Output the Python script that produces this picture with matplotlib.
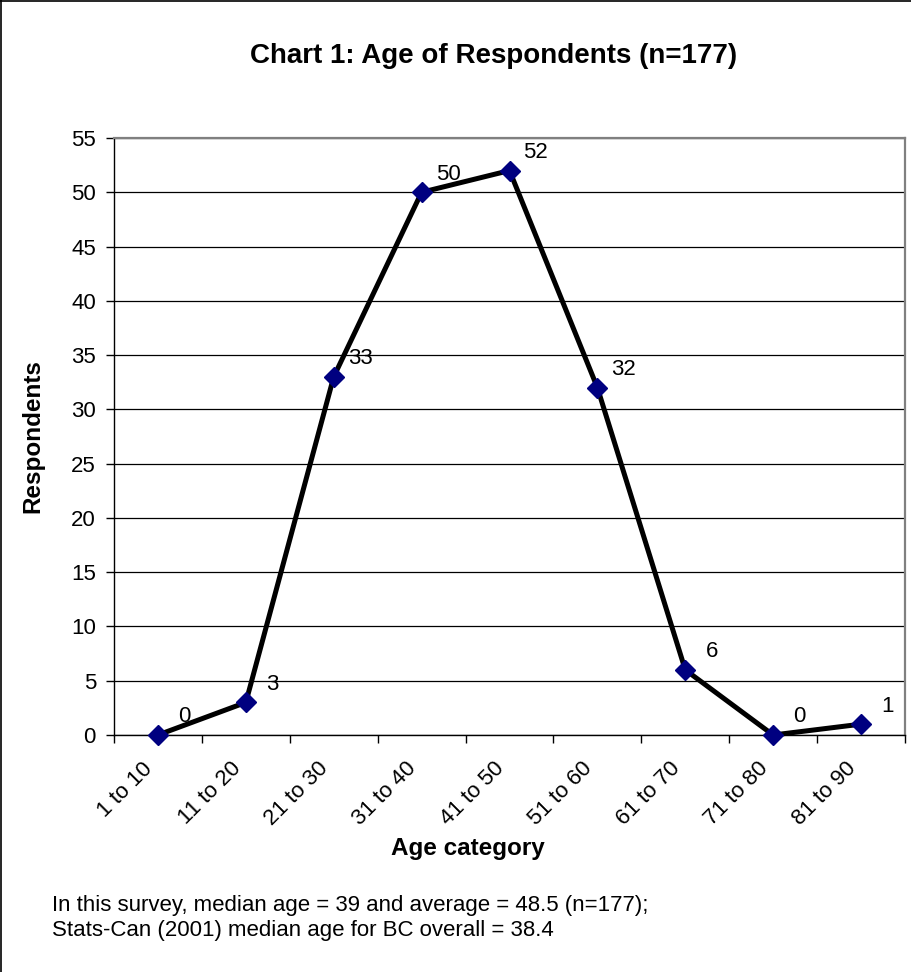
import matplotlib

matplotlib.use("Agg")
import matplotlib.pyplot as plt
from matplotlib.lines import Line2D
import numpy as np

plt.rcParams["font.family"] = ["Liberation Sans", "DejaVu Sans"]

# age bins and respondent counts
categories = ["1 to 10", "11 to 20", "21 to 30", "31 to 40", "41 to 50",
              "51 to 60", "61 to 70", "71 to 80", "81 to 90"]
respondents = [0, 3, 33, 50, 52, 32, 6, 0, 1]
y_ticks = list(range(0, 56, 5))

title = "Chart 1: Age of Respondents (n=177)"
note = ("In this survey, median age = 39 and average = 48.5 (n=177);\n"
        "Stats-Can (2001) median age for BC overall = 38.4")

W, H = 911, 972
fig = plt.figure(figsize=(W / 100, H / 100), dpi=100)

# plot area in pixels: left 114, right 905, top 138, bottom 735
ax = fig.add_axes([114 / W, 1 - 735 / H, 791 / W, 597 / H])

x = np.arange(len(categories)) + 0.5
ax.plot(x, respondents, color="black", lw=3.6, marker="D", ms=10.5,
        mfc="#000080", mec="#000080", zorder=3, clip_on=False)

for xi, v in zip(x, respondents):
    ax.annotate(str(v), (xi, v), xytext=(19, 13), textcoords="offset points",
                ha="center", va="center", fontsize=16)

ax.set_xlim(0, len(categories))
ax.set_ylim(0, 55)
ax.set_yticks(y_ticks)
ax.set_xticks(np.arange(len(categories) + 1))
ax.set_xticklabels([])
ax.tick_params(axis="x", length=6, width=1, direction="out")
ax.tick_params(axis="y", length=6, width=1, direction="out", labelsize=16, pad=7)

# category labels: rotated, ending just left of each category centre
for xi, cat in zip(x, categories):
    ax.annotate(cat, (xi, 0), xycoords=("data", "axes fraction"),
                xytext=(-6, -22), textcoords="offset points",
                rotation=45, rotation_mode="anchor", ha="right", va="center",
                fontsize=16, annotation_clip=False)

ax.grid(axis="y", color="black", lw=0.9)
ax.set_axisbelow(True)
for s in ("top", "right"):
    ax.spines[s].set_color("#808080")
    ax.spines[s].set_linewidth(1.6)
for s in ("left", "bottom"):
    ax.spines[s].set_color("black")
    ax.spines[s].set_linewidth(1.0)

fig.text(494 / W, 1 - 56 / H, title, ha="center", va="center",
         fontsize=20, fontweight="bold")
fig.text(33 / W, 1 - 436 / H, "Respondents", ha="center", va="center",
         rotation=90, fontsize=17.5, fontweight="bold")
fig.text(468 / W, 1 - 848 / H, "Age category", ha="center", va="center",
         fontsize=17.5, fontweight="bold")
fig.text(52 / W, 1 - 918 / H, note, ha="left", va="center", fontsize=16,
         linespacing=1.25)

# outer chart border (left and top visible)
fig.add_artist(Line2D([1 / W, 1 / W], [0, 1], color="black", lw=1.2,
                      transform=fig.transFigure))
fig.add_artist(Line2D([0, 1], [1 - 1 / H, 1 - 1 / H], color="black", lw=1.2,
                      transform=fig.transFigure))

fig.savefig("out.png", dpi=100)
